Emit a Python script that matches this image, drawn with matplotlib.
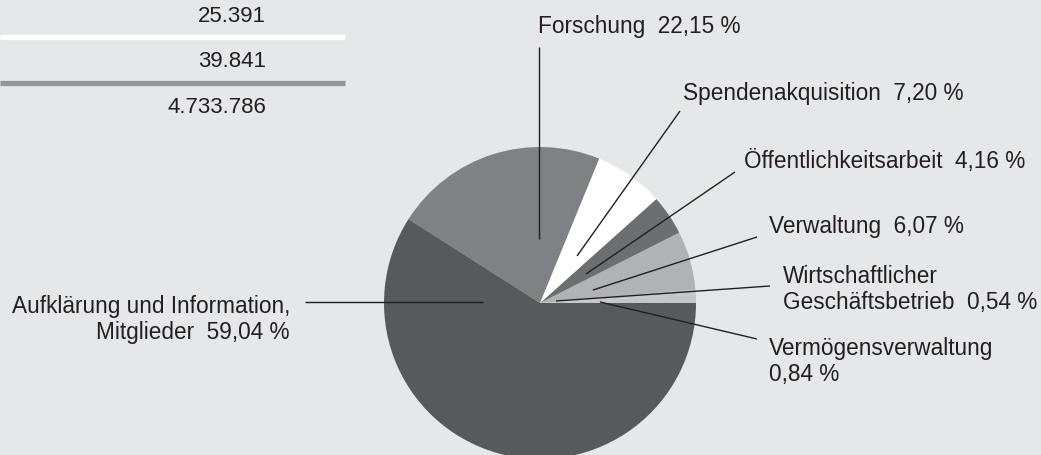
import matplotlib
matplotlib.use("Agg")
import matplotlib.pyplot as plt

# pie shares (percent), counter-clockwise from 3 o'clock
names = ["Vermögensverwaltung", "Wirtschaftlicher Geschäftsbetrieb", "Verwaltung",
         "Öffentlichkeitsarbeit", "Spendenakquisition", "Forschung",
         "Aufklärung und Information, Mitglieder"]
shares = [0.84, 0.54, 6.07, 4.16, 7.20, 22.15, 59.04]
colors = ["#c5c6c8", "#c5c6c8", "#b1b2b4", "#6d6e71", "#ffffff", "#808184", "#58595b"]

# table fragment at the top left
table_values = ["25.391", "39.841", "4.733.786"]

W, H = 1041, 456
BG = "#e6e7e8"
TXT = "#231f20"


def pct(v):
    return f"{v:.2f}".replace(".", ",") + " %"


# label text lines per slice (same order as names)
label_lines = [
    ["Vermögensverwaltung", pct(shares[0])],
    ["Wirtschaftlicher", "Geschäftsbetrieb  " + pct(shares[1])],
    ["Verwaltung  " + pct(shares[2])],
    ["Öffentlichkeitsarbeit  " + pct(shares[3])],
    ["Spendenakquisition  " + pct(shares[4])],
    ["Forschung  " + pct(shares[5])],
    ["Aufklärung und Information,", "Mitglieder  " + pct(shares[6])],
]
# layout in pixels (top-left origin): text anchor x, first baseline y, align
label_pos = [(769, 355, "left"), (783, 283, "left"), (769, 233, "left"),
             (744, 168, "left"), (683, 100, "left"), (538, 33, "left"),
             (290, 313, "right")]
leaders = [((757, 340), (600, 303)), ((770, 287), (556, 302)), ((757, 238), (593, 291)),
           ((735, 173), (586, 275)), ((680, 112), (577, 257)), ((539, 48), (539, 240)),
           ((305, 303), (483, 303))]

fig = plt.figure(figsize=(W / 100, H / 100), dpi=100, facecolor=BG)
ax = fig.add_axes([0, 0, 1, 1])
ax.set_facecolor(BG)

cx, cy, R = 540, 304, 156
ax.pie(shares, colors=colors, startangle=0, counterclock=True,
       center=(cx, H - cy), radius=R, frame=True,
       wedgeprops=dict(linewidth=0))

for (p0, p1) in leaders:
    ax.plot([p0[0], p1[0]], [H - p0[1], H - p1[1]], color=TXT, lw=1.0,
            solid_capstyle="butt", zorder=5)

for lines, (x, y, ha) in zip(label_lines, label_pos):
    for i, s in enumerate(lines):
        ax.text(x, H - (y + i * 26), s, ha=ha, va="baseline", fontsize=16.3,
                color=TXT, family="Liberation Sans")

# table fragment
row_base = [22, 67, 113]
for v, yb in zip(table_values, row_base):
    ax.text(266, H - yb, v, ha="right", va="baseline", fontsize=16,
            color=TXT, family="Liberation Sans")
ax.plot([0, 345], [H - 38, H - 38], color="white", lw=3.8, solid_capstyle="butt")
ax.plot([0, 345], [H - 83.5, H - 83.5], color="#939598", lw=3.8, solid_capstyle="butt")

ax.set_xlim(0, W)
ax.set_ylim(0, H)
ax.set_aspect("auto")
ax.axis("off")

fig.savefig("out.png", dpi=100, facecolor=BG)
